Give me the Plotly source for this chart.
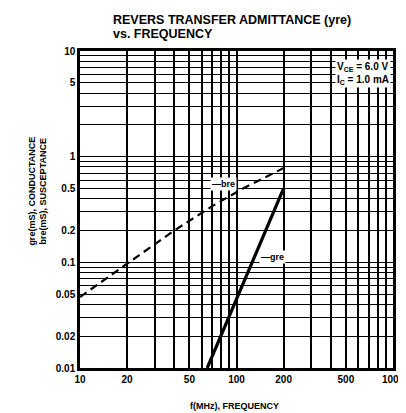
import plotly.graph_objects as go

# Data
freq_bre = [10, 20, 40, 70, 110, 200]
bre_vals = [0.047, 0.097, 0.2, 0.34, 0.5, 0.78]
freq_gre = [65, 200]
gre_vals = [0.01, 0.5]

x_ticks = [10, 20, 50, 100, 200, 500, 1000]
x_ticktext = ["10", "20", "50", "100", "200", "500", "1000"]
x_minor = [30, 40, 60, 70, 80, 90, 300, 400, 600, 700, 800, 900]
y_ticks = [0.01, 0.02, 0.05, 0.1, 0.2, 0.5, 1, 5, 10]
y_ticktext = ["0.01", "0.02", "0.05", "0.1", "0.2", "0.5", "1", "5", "10"]
y_minor = [0.03, 0.04, 0.06, 0.07, 0.08, 0.09, 0.3, 0.4, 0.6, 0.7, 0.8, 0.9,
           2, 3, 4, 6, 7, 8, 9]

FONT = "Liberation Sans"

fig = go.Figure()
fig.add_trace(go.Scatter(x=freq_bre, y=bre_vals, mode="lines",
                         line=dict(color="black", width=2.2, dash="8px,5px"), showlegend=False))
fig.add_trace(go.Scatter(x=freq_gre, y=gre_vals, mode="lines",
                         line=dict(color="black", width=3.2), showlegend=False))

fig.update_layout(
    width=406, height=413,
    margin=dict(l=72, r=9, t=43, b=53),
    paper_bgcolor="white", plot_bgcolor="white",
    font=dict(family=FONT, color="black", size=10, weight="bold"),
    xaxis=dict(type="log", range=[1, 3], tickvals=x_ticks, ticktext=x_ticktext,
               showgrid=True, gridcolor="black", gridwidth=1.6,
               minor=dict(tickvals=x_minor, showgrid=True, gridcolor="black", gridwidth=1.6, ticks=""),
               showline=True, linecolor="black", linewidth=2.5, mirror=True,
               ticks="", zeroline=False, tickfont=dict(size=10, family=FONT, weight="bold")),
    yaxis=dict(type="log", range=[-2, 1], tickvals=y_ticks, ticktext=y_ticktext,
               showgrid=True, gridcolor="black", gridwidth=1.1,
               minor=dict(tickvals=y_minor, showgrid=True, gridcolor="black", gridwidth=1.1, ticks=""),
               showline=True, linecolor="black", linewidth=2.5, mirror=True,
               ticks="", zeroline=False, tickfont=dict(size=10, family=FONT, weight="bold")),
)

def py(px):
    return (360 - px) / 317

ann = []
ann.append(dict(xref="paper", yref="paper", x=(104 - 72) / 325, y=py(12),
                xanchor="left", yanchor="middle", showarrow=False,
                text="REVERS TRANSFER ADMITTANCE (yre)",
                font=dict(size=12.5, family=FONT, weight="bold")))
ann.append(dict(xref="paper", yref="paper", x=(104 - 72) / 325, y=py(26),
                xanchor="left", yanchor="middle", showarrow=False,
                text="vs. FREQUENCY",
                font=dict(size=12.5, family=FONT, weight="bold")))
ann.append(dict(xref="paper", yref="paper", x=(232 - 72) / 325, y=py(398),
                xanchor="center", yanchor="middle", showarrow=False,
                text="f(MHz), FREQUENCY", font=dict(size=9, family=FONT, weight="bold")))
ann.append(dict(xref="paper", yref="paper", x=-(72 - 28) / 325, y=py(183),
                xanchor="center", yanchor="middle", showarrow=False, textangle=-90,
                text="gre(mS), CONDUCTANCE<br>bre(mS), SUSCEPTANCE",
                font=dict(size=9, family=FONT, weight="bold")))
# curve labels
ann.append(dict(xref="x", yref="y", x=1.92, y=-0.26, xanchor="center", yanchor="middle",
                showarrow=False, text="—bre", bgcolor="white",
                font=dict(size=9, family=FONT, weight="bold")))
ann.append(dict(xref="x", yref="y", x=2.23, y=-0.95, xanchor="center", yanchor="middle",
                showarrow=False, text="—gre", bgcolor="white",
                font=dict(size=9, family=FONT, weight="bold")))
# condition box
ann.append(dict(xref="paper", yref="paper", x=(395 - 72) / 325, y=py(65),
                xanchor="right", yanchor="middle", align="left", showarrow=False,
                text="V<sub>CE</sub> = 6.0 V<br>I<sub>C</sub> = 1.0 mA", bgcolor="white",
                font=dict(size=10, family=FONT, weight="bold")))
fig.update_layout(annotations=ann)

fig.write_html("out.html")
